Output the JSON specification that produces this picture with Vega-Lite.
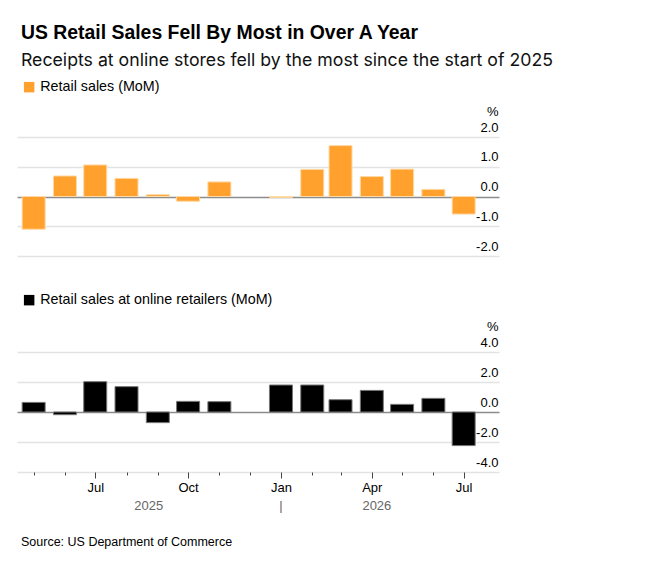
{
  "$schema": "https://vega.github.io/schema/vega-lite/v6.json",
  "background": "white",
  "padding": {"left": 17, "top": 22, "right": 5, "bottom": 5},
  "autosize": {"type": "pad"},
  "title": {
    "text": "US Retail Sales Fell By Most in Over A Year",
    "subtitle": "Receipts at online stores fell by the most since the start of 2025",
    "anchor": "start",
    "dx": 4,
    "font": "Liberation Sans",
    "fontSize": 19.4,
    "fontWeight": "bold",
    "color": "#000",
    "subtitleFont": "Inter",
    "subtitleFontSize": 17.7,
    "subtitleColor": "#111",
    "subtitlePadding": 9,
    "offset": 4
  },
  "datasets": {
    "sales": [
      {"date": "2025-05-01", "series": "Retail sales (MoM)", "value": -1.1},
      {"date": "2025-06-01", "series": "Retail sales (MoM)", "value": 0.69},
      {"date": "2025-07-01", "series": "Retail sales (MoM)", "value": 1.06},
      {"date": "2025-08-01", "series": "Retail sales (MoM)", "value": 0.61},
      {"date": "2025-09-01", "series": "Retail sales (MoM)", "value": 0.06},
      {"date": "2025-10-01", "series": "Retail sales (MoM)", "value": -0.16},
      {"date": "2025-11-01", "series": "Retail sales (MoM)", "value": 0.49},
      {"date": "2026-01-01", "series": "Retail sales (MoM)", "value": -0.03},
      {"date": "2026-02-01", "series": "Retail sales (MoM)", "value": 0.91},
      {"date": "2026-03-01", "series": "Retail sales (MoM)", "value": 1.71},
      {"date": "2026-04-01", "series": "Retail sales (MoM)", "value": 0.67},
      {"date": "2026-05-01", "series": "Retail sales (MoM)", "value": 0.92},
      {"date": "2026-06-01", "series": "Retail sales (MoM)", "value": 0.24},
      {"date": "2026-07-01", "series": "Retail sales (MoM)", "value": -0.59}
    ],
    "online": [
      {"date": "2025-05-01", "series": "Retail sales at online retailers (MoM)", "value": 0.64},
      {"date": "2025-06-01", "series": "Retail sales at online retailers (MoM)", "value": -0.18},
      {"date": "2025-07-01", "series": "Retail sales at online retailers (MoM)", "value": 2.02},
      {"date": "2025-08-01", "series": "Retail sales at online retailers (MoM)", "value": 1.69},
      {"date": "2025-09-01", "series": "Retail sales at online retailers (MoM)", "value": -0.71},
      {"date": "2025-10-01", "series": "Retail sales at online retailers (MoM)", "value": 0.71},
      {"date": "2025-11-01", "series": "Retail sales at online retailers (MoM)", "value": 0.69},
      {"date": "2026-01-01", "series": "Retail sales at online retailers (MoM)", "value": 1.8},
      {"date": "2026-02-01", "series": "Retail sales at online retailers (MoM)", "value": 1.8},
      {"date": "2026-03-01", "series": "Retail sales at online retailers (MoM)", "value": 0.82},
      {"date": "2026-04-01", "series": "Retail sales at online retailers (MoM)", "value": 1.44},
      {"date": "2026-05-01", "series": "Retail sales at online retailers (MoM)", "value": 0.51},
      {"date": "2026-06-01", "series": "Retail sales at online retailers (MoM)", "value": 0.91},
      {"date": "2026-07-01", "series": "Retail sales at online retailers (MoM)", "value": -2.24}
    ],
    "years": [
      {"date": "2025-08-23", "label": "2025"},
      {"date": "2026-01-01", "label": "|"},
      {"date": "2026-04-06", "label": "2026"}
    ]
  },
  "vconcat": [
    {
      "width": 482,
      "height": 119,
      "data": {"name": "sales"},
      "mark": {"type": "bar", "width": 23, "stroke": "#FFD9A3", "strokeWidth": 1},
      "encoding": {
        "x": {
          "field": "date",
          "type": "temporal",
          "scale": {"type": "utc", "padding": 0, "domain": ["2025-04-14T12:00:00Z", "2026-08-05T00:00:00Z"]},
          "axis": null
        },
        "y": {
          "field": "value",
          "type": "quantitative",
          "scale": {"domain": [-2, 2], "nice": false},
          "axis": {
            "values": [-2, -1, 0, 1, 2],
            "labelExpr": "(datum.value < 0 ? '-' : '') + format(abs(datum.value), '.1f')",
            "title": "%"
          }
        },
        "color": {
          "field": "series",
          "type": "nominal",
          "scale": {"range": ["#FFA12C"]},
          "legend": {"orient": "top", "title": null, "offset": 37}
        }
      }
    },
    {
      "width": 482,
      "height": 120,
      "title": {
        "text": "Source: US Department of Commerce",
        "orient": "bottom",
        "anchor": "start",
        "dx": 4,
        "offset": 23,
        "font": "Liberation Sans",
        "fontSize": 12.5,
        "fontWeight": "normal",
        "color": "#000"
      },
      "layer": [
        {
          "data": {"name": "online"},
          "mark": {"type": "bar", "width": 23, "stroke": "#777", "strokeWidth": 1},
          "encoding": {
            "x": {
              "field": "date",
              "type": "temporal",
              "scale": {"type": "utc", "padding": 0, "domain": ["2025-04-14T12:00:00Z", "2026-08-05T00:00:00Z"]},
              "axis": {
                "values": [
                  {"year": 2025, "month": 5, "date": 1, "utc": true},
                  {"year": 2025, "month": 6, "date": 1, "utc": true},
                  {"year": 2025, "month": 7, "date": 1, "utc": true},
                  {"year": 2025, "month": 8, "date": 1, "utc": true},
                  {"year": 2025, "month": 9, "date": 1, "utc": true},
                  {"year": 2025, "month": 10, "date": 1, "utc": true},
                  {"year": 2025, "month": 11, "date": 1, "utc": true},
                  {"year": 2025, "month": 12, "date": 1, "utc": true},
                  {"year": 2026, "month": 1, "date": 1, "utc": true},
                  {"year": 2026, "month": 2, "date": 1, "utc": true},
                  {"year": 2026, "month": 3, "date": 1, "utc": true},
                  {"year": 2026, "month": 4, "date": 1, "utc": true},
                  {"year": 2026, "month": 5, "date": 1, "utc": true},
                  {"year": 2026, "month": 6, "date": 1, "utc": true},
                  {"year": 2026, "month": 7, "date": 1, "utc": true}
                ],
                "tickCount": 30,
                "labelExpr": "utcmonth(datum.value) % 3 == 0 ? utcFormat(datum.value, '%b') : ''",
                "title": null,
                "domain": false,
                "grid": false,
                "ticks": true,
                "tickColor": "#444",
                "tickWidth": 1,
                "tickSize": {"condition": {"test": "utcmonth(datum.value) % 3 == 0", "value": 6}, "value": 3},
                "labelPadding": 3,
                "labelFontSize": 13,
                "labelColor": "#000",
                "labelOverlap": false,
                "labelFlush": false
              }
            },
            "y": {
              "field": "value",
              "type": "quantitative",
              "scale": {"domain": [-4, 4], "nice": false},
              "axis": {
                "values": [-4, -2, 0, 2, 4],
                "labelExpr": "(datum.value < 0 ? '-' : '') + format(abs(datum.value), '.1f')",
                "title": "%"
              }
            },
            "color": {
              "field": "series",
              "type": "nominal",
              "scale": {"range": ["#000000"]},
              "legend": {"orient": "top", "title": null}
            }
          }
        },
        {
          "data": {"name": "years"},
          "mark": {"type": "text", "baseline": "middle", "align": "center", "dy": 34, "fontSize": 13, "color": "#666"},
          "encoding": {
            "x": {"field": "date", "type": "temporal"},
            "y": {"value": "height"},
            "text": {"field": "label"}
          }
        }
      ]
    }
  ],
  "spacing": 32,
  "resolve": {"scale": {"color": "independent", "y": "independent"}, "legend": {"color": "independent"}},
  "config": {
    "font": "Liberation Sans",
    "view": {"stroke": null},
    "axisY": {
      "orient": "right",
      "domain": false,
      "ticks": false,
      "grid": true,
      "gridColor": {"condition": {"test": "datum.value === 0", "value": "#8c8c8c"}, "value": "#e3e3e3"},
      "gridWidth": 1.5,
      "labelAlign": "right",
      "labelBaseline": "alphabetic",
      "labelOffset": -6,
      "labelPadding": -1,
      "labelFontSize": 13,
      "labelColor": "#000",
      "labelFlush": false,
      "labelOverlap": false,
      "titleAngle": 0,
      "titleAlign": "right",
      "titleBaseline": "alphabetic",
      "titleX": -1,
      "titleY": -22,
      "titleFontSize": 13,
      "titleFontWeight": "normal",
      "titleColor": "#000"
    },
    "legend": {
      "symbolType": "square",
      "symbolSize": 110,
      "symbolStrokeWidth": 0,
      "labelFontSize": 14.3,
      "labelColor": "#000",
      "labelFont": "Liberation Sans",
      "labelLimit": 500,
      "padding": 5,
      "offset": 39
    }
  }
}
